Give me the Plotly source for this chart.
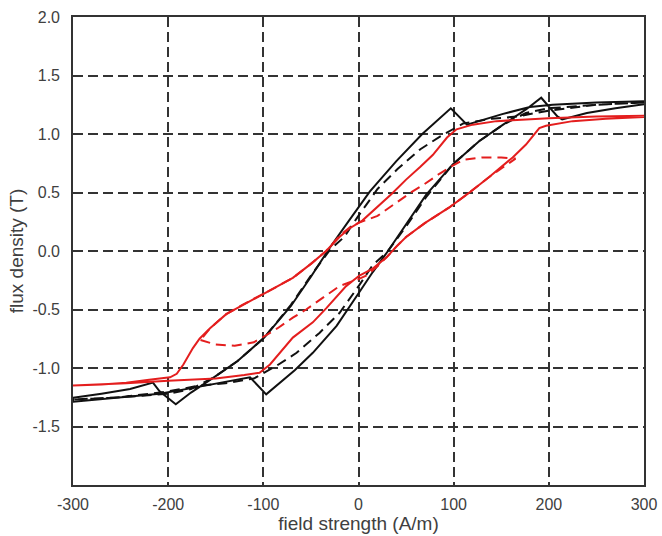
import plotly.graph_objects as go

# ---------------- data ----------------
# black solid loop
blk_sol_desc_H = [300, 250, 204, 180, 151, 130, 114, 97, 85, 67, 40, 12, -10, -30, -50, -71, -99, -127, -152, -176, -192, -209, -216, -240, -270, -300]
blk_sol_desc_B = [1.28, 1.27, 1.25, 1.23, 1.17, 1.12, 1.08, 1.22, 1.13, 1.00, 0.77, 0.51, 0.26, 0.03, -0.22, -0.47, -0.74, -0.94, -1.08, -1.21, -1.31, -1.20, -1.125, -1.18, -1.22, -1.255]
blk_sol_asc_H = [-300, -244, -209, -174, -139, -114, -97, -85, -67, -48, -23, 1, 15, 31, 50, 71, 99, 127, 152, 176, 192, 209, 214, 240, 270, 300]
blk_sol_asc_B = [-1.288, -1.25, -1.22, -1.17, -1.12, -1.08, -1.225, -1.14, -1.02, -0.87, -0.64, -0.35, -0.18, 0.0, 0.23, 0.48, 0.74, 0.94, 1.08, 1.21, 1.31, 1.15, 1.125, 1.18, 1.22, 1.255]

# black dashed loop
blk_dsh_desc_H = [300, 250, 200, 167, 140, 110, 86, 65, 41, 20, -1, -15, -30, -50, -71, -99, -127, -152, -176, -200, -250, -300]
blk_dsh_desc_B = [1.27, 1.25, 1.20, 1.15, 1.13, 1.09, 0.98, 0.87, 0.70, 0.53, 0.29, 0.12, 0.01, -0.21, -0.46, -0.74, -0.94, -1.08, -1.18, -1.22, -1.25, -1.27]
blk_dsh_asc_H = [-300, -250, -200, -167, -140, -110, -86, -65, -41, -20, 1, 15, 30, 50, 71, 99, 127, 152, 176, 200, 250, 300]
blk_dsh_asc_B = [-1.27, -1.25, -1.20, -1.15, -1.13, -1.09, -0.98, -0.87, -0.70, -0.53, -0.29, -0.12, -0.01, 0.21, 0.46, 0.74, 0.94, 1.08, 1.18, 1.22, 1.25, 1.27]

# red solid loop
red_sol_desc_H = [300, 250, 200, 176, 145, 120, 103, 93, 78, 65, 50, 35, 15, 4, -10, -20, -34, -50, -69, -87, -104, -122, -139, -156, -167, -174, -184, -191, -198, -220, -244, -270, -300]
red_sol_desc_B = [1.155, 1.15, 1.135, 1.125, 1.11, 1.08, 1.04, 0.97, 0.82, 0.72, 0.61, 0.49, 0.34, 0.26, 0.19, 0.12, 0.0, -0.11, -0.23, -0.31, -0.38, -0.46, -0.54, -0.66, -0.75, -0.83, -0.97, -1.05, -1.08, -1.10, -1.125, -1.14, -1.15]
red_sol_asc_H = [-300, -244, -200, -150, -120, -104, -93, -83, -69, -48, -34, -13, 1, 15, 30, 40, 50, 70, 95, 115, 137, 162, 176, 190, 197, 225, 260, 300]
red_sol_asc_B = [-1.15, -1.13, -1.11, -1.09, -1.06, -1.04, -0.97, -0.87, -0.74, -0.61, -0.49, -0.30, -0.21, -0.15, -0.05, 0.04, 0.12, 0.24, 0.37, 0.49, 0.63, 0.80, 0.91, 1.05, 1.07, 1.11, 1.13, 1.145]

# red dashed minor loop
red_dsh_asc_H = [-166, -150, -130, -110, -97, -85, -69, -55, -34, -20, 0, 8, 20, 30, 40, 50, 70, 95, 115, 137, 165]
red_dsh_asc_B = [-0.76, -0.80, -0.81, -0.78, -0.72, -0.66, -0.57, -0.50, -0.38, -0.30, -0.24, -0.21, -0.13, -0.05, 0.04, 0.12, 0.24, 0.37, 0.49, 0.63, 0.79]
red_dsh_desc_H = [165, 150, 130, 110, 97, 85, 69, 55, 34, 20, 0, -8, -20, -34, -50, -69, -87, -104, -122, -139, -156, -166]
red_dsh_desc_B = [0.79, 0.80, 0.80, 0.78, 0.72, 0.66, 0.57, 0.50, 0.38, 0.30, 0.24, 0.21, 0.13, 0.0, -0.11, -0.23, -0.31, -0.38, -0.46, -0.54, -0.66, -0.76]

x_ticks = [-300, -200, -100, 0, 100, 200, 300]
x_ticklabels = ["-300", "-200", "-100", "0", "100", "200", "300"]
y_ticks = [-1.5, -1.0, -0.5, 0.0, 0.5, 1.0, 1.5, 2.0]
y_ticklabels = ["-1.5", "-1.0", "-0.5", "0.0", "0.5", "1.0", "1.5", "2.0"]

# ---------------- figure ----------------
BLACK = "#111111"
RED = "#e41e1e"
DASH = "10px,6px"
FONT = "Liberation Sans, Arial, sans-serif"

fig = go.Figure()


def add_loop(hd, bd, ha, ba, color, dash):
    fig.add_trace(go.Scatter(
        x=hd + ha, y=bd + ba, mode="lines",
        line=dict(color=color, width=2, dash=dash),
        showlegend=False, hoverinfo="skip"))


add_loop(blk_sol_desc_H, blk_sol_desc_B, blk_sol_asc_H, blk_sol_asc_B, BLACK, "solid")
add_loop(blk_dsh_desc_H, blk_dsh_desc_B, blk_dsh_asc_H, blk_dsh_asc_B, BLACK, DASH)
add_loop(red_sol_desc_H, red_sol_desc_B, red_sol_asc_H, red_sol_asc_B, RED, "solid")
add_loop(red_dsh_asc_H, red_dsh_asc_B, red_dsh_desc_H, red_dsh_desc_B, RED, DASH)

axis_common = dict(
    showline=True, mirror=True, linecolor="#333333", linewidth=1.6,
    showgrid=True, gridcolor="#333333", gridwidth=1.8, griddash="10px,5px",
    zeroline=False, ticks="", automargin=False,
    tickfont=dict(family=FONT, size=16, color="#404040"),
)

fig.update_xaxes(
    range=[-300, 300], tickvals=x_ticks, ticktext=x_ticklabels,
    ticklabelstandoff=4,
    title=dict(text="field strength (A/m)", standoff=4,
               font=dict(family=FONT, size=19, color="#404040")),
    **axis_common)
fig.update_yaxes(
    range=[-2, 2], tickvals=y_ticks, ticktext=y_ticklabels,
    ticklabelstandoff=8,
    title=dict(text="flux density (T)", standoff=4,
               font=dict(family=FONT, size=19, color="#404040")),
    **axis_common)

fig.update_layout(
    width=662, height=536,
    margin=dict(l=73, r=18, t=17, b=51),
    paper_bgcolor="white", plot_bgcolor="white",
    showlegend=False,
)

fig.write_html("out.html")
